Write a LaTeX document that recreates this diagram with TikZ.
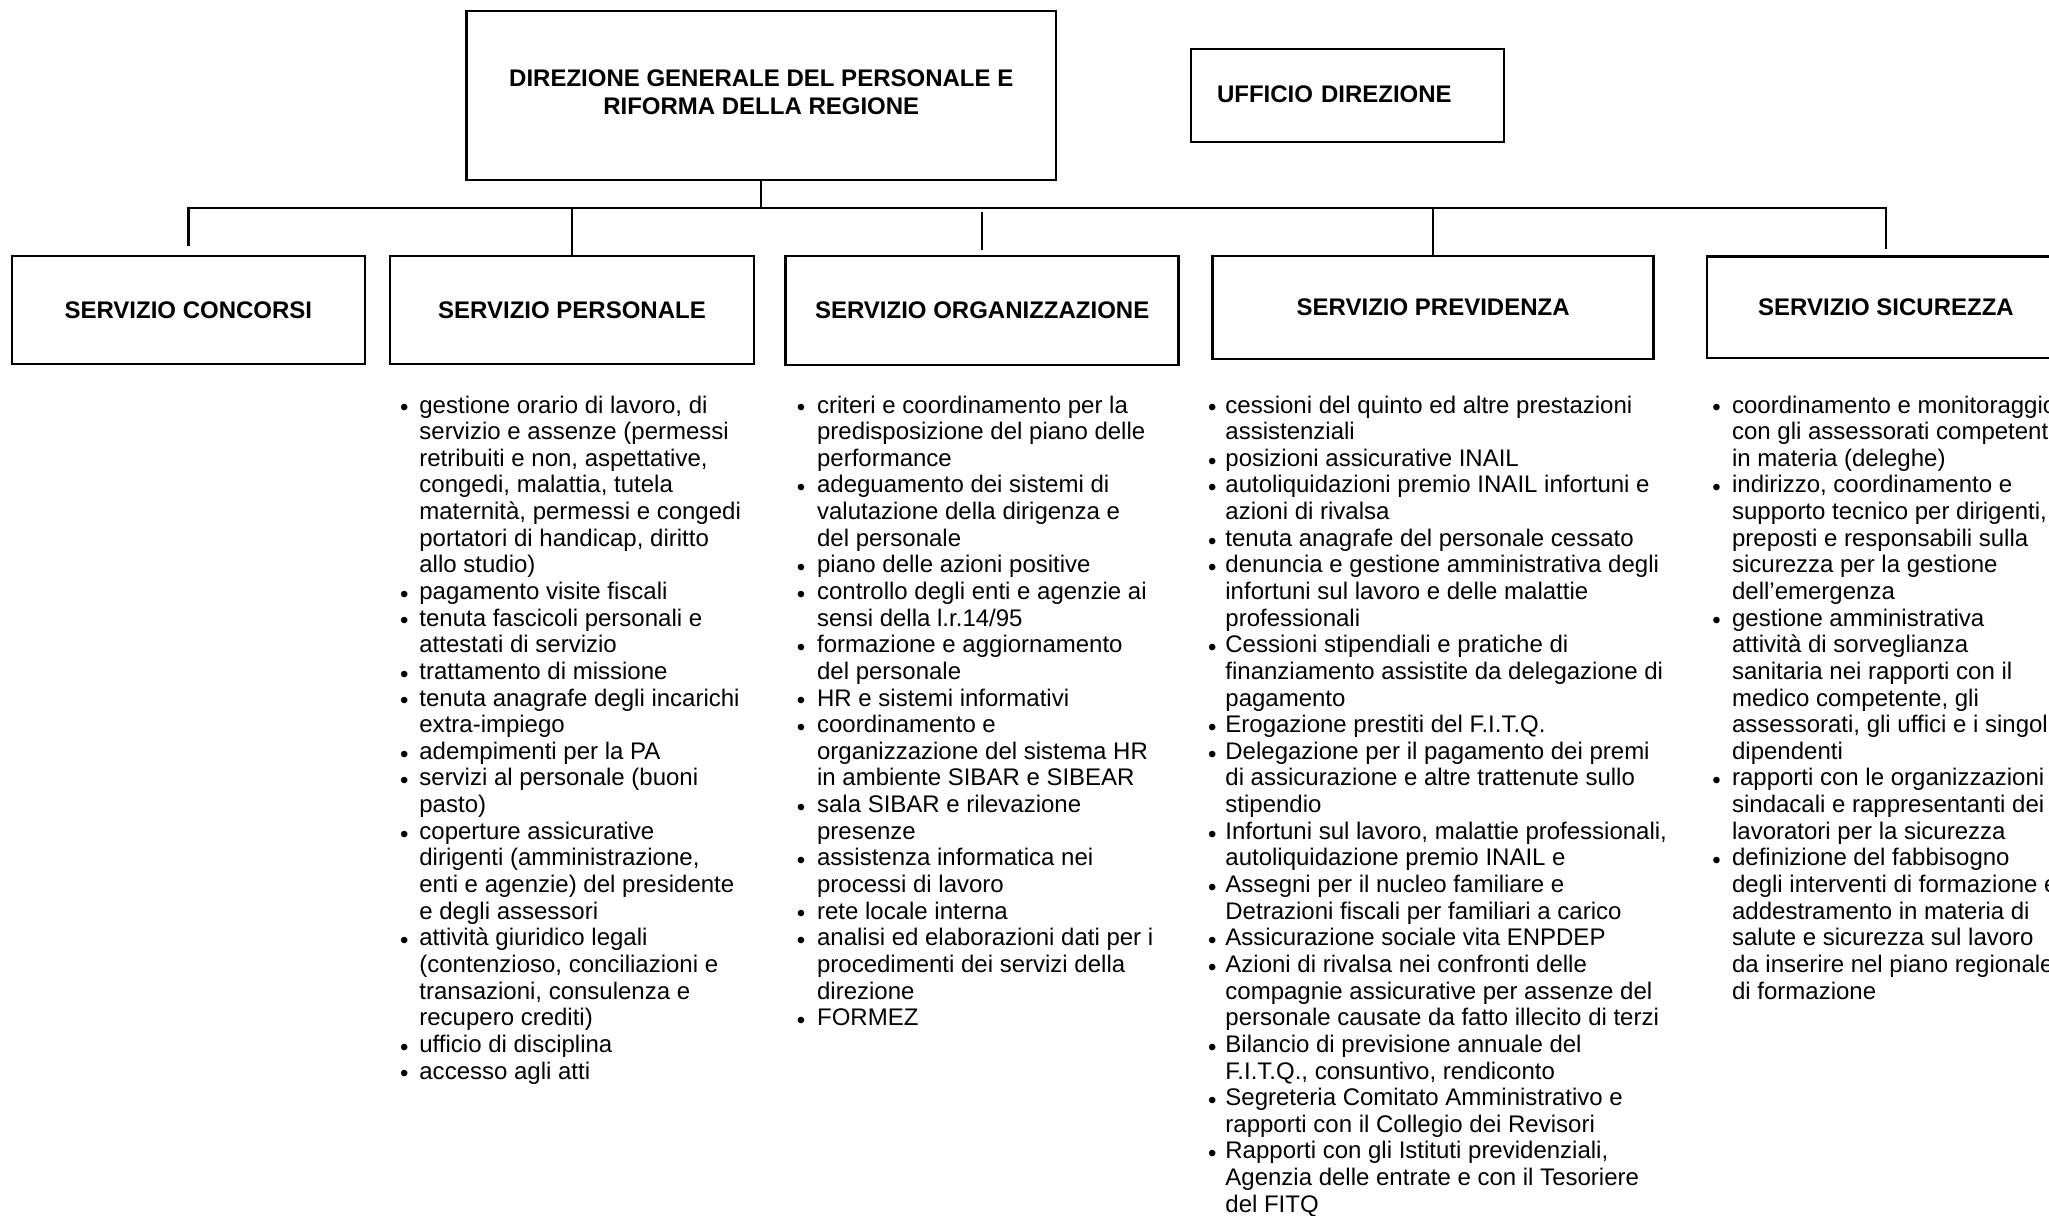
\documentclass[tikz,border=0pt]{standalone}
\usepackage{fontspec}
\setmainfont{Liberation Sans}
\usetikzlibrary{calc}
\newlength\bulo
\newcommand\itm{\llap{\makebox[0pt][c]{\raisebox{-1.4pt}{•}}\hspace{\bulo}}}
\begin{document}
\begin{tikzpicture}[x=0.5pt,y=-0.5pt,
  box/.style={draw,line width=1.2pt,inner sep=0pt,font=\fontsize{12pt}{13.75pt}\selectfont\bfseries},
  conn/.style={line width=1.2pt},
  list/.style={anchor=base west,inner sep=0pt,font=\fontsize{12pt}{13.32pt}\selectfont\setlength\bulo{#1}},
  list/.default=7.5pt]
\useasboundingbox (0,0) rectangle (2049,1215);
\clip (0,0) rectangle (2049,1215);
\fill[white] (0,0) rectangle (2049,1215);

% top level
\node[box,minimum width={589.5*0.5pt},minimum height={169*0.5pt},align=center] (dgp) at (761.25,95.5)
  {DIREZIONE GENERALE DEL PERSONALE E\\RIFORMA DELLA REGIONE\rule[-3.5pt]{0pt}{0pt}};
\node[box,minimum height={93*0.5pt},text width={261*0.5pt},inner xsep={26*0.5pt},align=left] (uff) at (1347.5,95.5)
  {UFFICIO DIREZIONE\rule[-1.5pt]{0pt}{0pt}};

% services
\node[box,minimum width={353.3*0.5pt},minimum height={108*0.5pt}] (c1) at (188.35,310) {SERVIZIO CONCORSI};
\node[box,minimum width={364*0.5pt},minimum height={108*0.5pt}] (c2) at (572,310) {SERVIZIO PERSONALE};
\node[box,minimum width={393*0.5pt},minimum height={109*0.5pt}] (c3) at (982.15,310.5) {SERVIZIO ORGANIZZAZIONE};
\node[box,minimum width={441*0.5pt},minimum height={103*0.5pt}] (c4) at (1433.15,307.5) {SERVIZIO PREVIDENZA};
\node[box,minimum width={358*0.5pt},minimum height={101.3*0.5pt}] (c5) at (1886,307.3) {SERVIZIO SICUREZZA};

% connectors
\coordinate (bus) at (0,208);
\draw[conn] (dgp.south) -- (dgp.south |- bus);
\draw[conn] ($(c1.north)+(0,-9)$) -- (c1.north |- bus) -- (c5.north |- bus) -- ($(c5.north)+(0,-6.7)$);
\draw[conn] (c2.north |- bus) -- (c2.north);
\draw[conn] ($(c3.north |- bus)+(0,4)$) -- ($(c3.north)+(0,-5)$);
\draw[conn] (c4.north |- bus) -- (c4.north);

% lists
\node[list=7.5pt] (l2) at (419,413) {\begin{tabular}[t]{@{}l@{}}
\itm gestione orario di lavoro, di\\
servizio e assenze (permessi\\
retribuiti e non, aspettative,\\
congedi, malattia, tutela\\
maternità, permessi e congedi\\
portatori di handicap, diritto\\
allo studio)\\
\itm pagamento visite fiscali\\
\itm tenuta fascicoli personali e\\
attestati di servizio\\
\itm trattamento di missione\\
\itm tenuta anagrafe degli incarichi\\
extra-impiego\\
\itm adempimenti per la PA\\
\itm servizi al personale (buoni\\
pasto)\\
\itm coperture assicurative\\
dirigenti (amministrazione,\\
enti e agenzie) del presidente\\
e degli assessori\\
\itm attività giuridico legali\\
(contenzioso, conciliazioni e\\
transazioni, consulenza e\\
recupero crediti)\\
\itm ufficio di disciplina\\
\itm accesso agli atti
\end{tabular}};

\node[list=8pt] (l3) at (816.7,413) {\begin{tabular}[t]{@{}l@{}}
\itm criteri e coordinamento per la\\
predisposizione del piano delle\\
performance\\
\itm adeguamento dei sistemi di\\
valutazione della dirigenza e\\
del personale\\
\itm piano delle azioni positive\\
\itm controllo degli enti e agenzie ai\\
sensi della l.r.14/95\\
\itm formazione e aggiornamento\\
del personale\\
\itm HR e sistemi informativi\\
\itm coordinamento e\\
organizzazione del sistema HR\\
in ambiente SIBAR e SIBEAR\\
\itm sala SIBAR e rilevazione\\
presenze\\
\itm assistenza informatica nei\\
processi di lavoro\\
\itm rete locale interna\\
\itm analisi ed elaborazioni dati per i\\
procedimenti dei servizi della\\
direzione\\
\itm FORMEZ
\end{tabular}};

\node[list=6.5pt] (l4) at (1225,413) {\begin{tabular}[t]{@{}l@{}}
\itm cessioni del quinto ed altre prestazioni\\
assistenziali\\
\itm posizioni assicurative INAIL\\
\itm autoliquidazioni premio INAIL infortuni e\\
azioni di rivalsa\\
\itm tenuta anagrafe del personale cessato\\
\itm denuncia e gestione amministrativa degli\\
infortuni sul lavoro e delle malattie\\
professionali\\
\itm Cessioni stipendiali e pratiche di\\
finanziamento assistite da delegazione di\\
pagamento\\
\itm Erogazione prestiti del F.I.T.Q.\\
\itm Delegazione per il pagamento dei premi\\
di assicurazione e altre trattenute sullo\\
stipendio\\
\itm Infortuni sul lavoro, malattie professionali,\\
autoliquidazione premio INAIL e\\
\itm Assegni per il nucleo familiare e\\
Detrazioni fiscali per familiari a carico\\
\itm Assicurazione sociale vita ENPDEP\\
\itm Azioni di rivalsa nei confronti delle\\
compagnie assicurative per assenze del\\
personale causate da fatto illecito di terzi\\
\itm Bilancio di previsione annuale del\\
F.I.T.Q., consuntivo, rendiconto\\
\itm Segreteria Comitato Amministrativo e\\
rapporti con il Collegio dei Revisori\\
\itm Rapporti con gli Istituti previdenziali,\\
Agenzia delle entrate e con il Tesoriere\\
del FITQ
\end{tabular}};

\node[list=7.8pt] (l5) at (1731.7,413) {\begin{tabular}[t]{@{}l@{}}
\itm coordinamento e monitoraggio\\
con gli assessorati competenti\\
in materia (deleghe)\\
\itm indirizzo, coordinamento e\\
supporto tecnico per dirigenti,\\
preposti e responsabili sulla\\
sicurezza per la gestione\\
dell’emergenza\\
\itm gestione amministrativa\\
attività di sorveglianza\\
sanitaria nei rapporti con il\\
medico competente, gli\\
assessorati, gli uffici e i singoli\\
dipendenti\\
\itm rapporti con le organizzazioni\\
sindacali e rappresentanti dei\\
lavoratori per la sicurezza\\
\itm definizione del fabbisogno\\
degli interventi di formazione e\\
addestramento in materia di\\
salute e sicurezza sul lavoro\\
da inserire nel piano regionale\\
di formazione
\end{tabular}};
\end{tikzpicture}
\end{document}
